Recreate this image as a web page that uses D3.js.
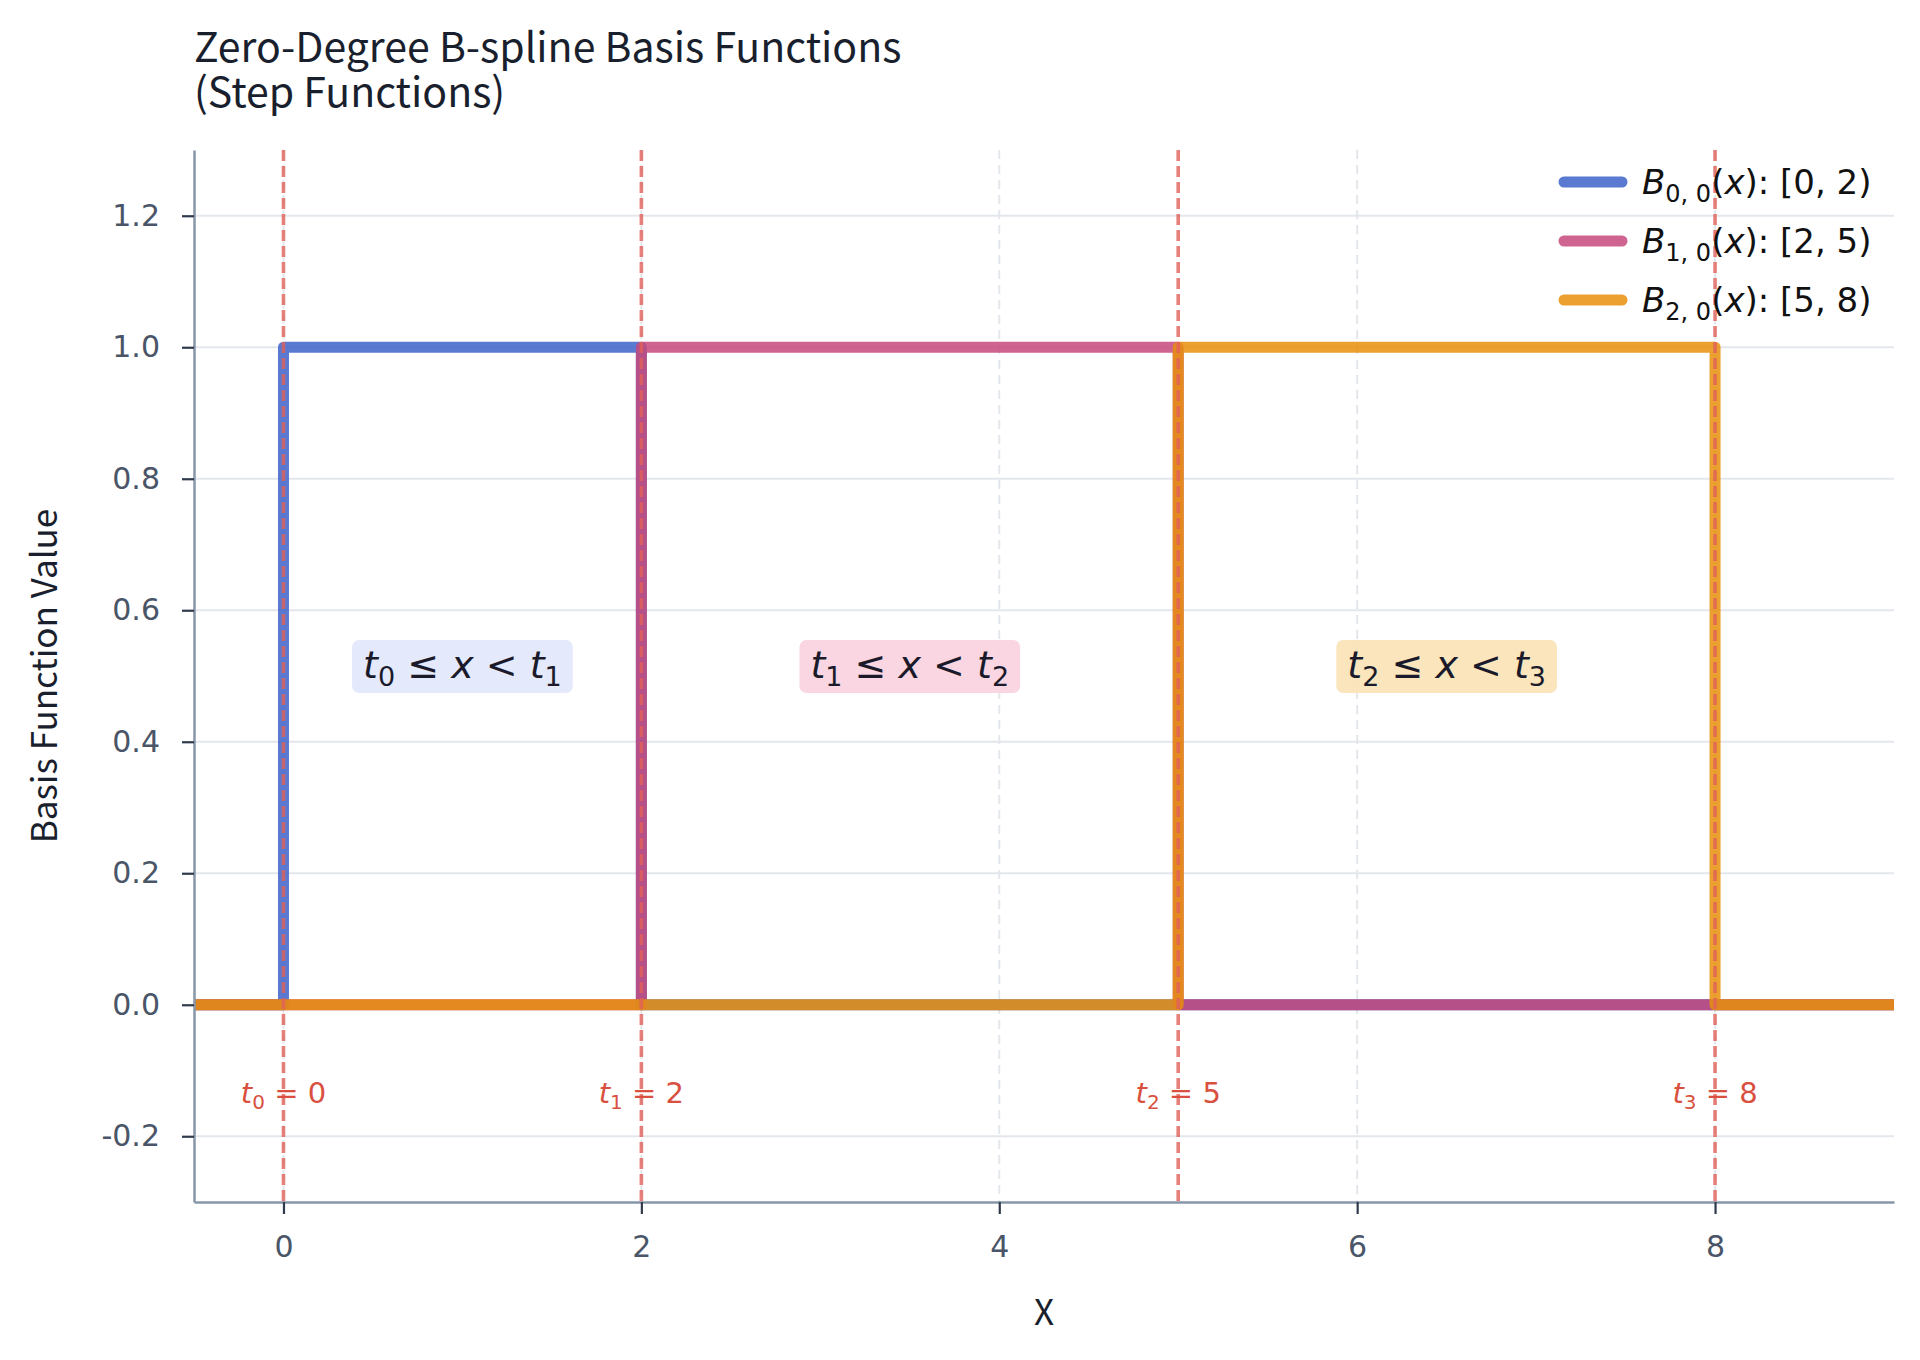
<!DOCTYPE html>
<html>
<head>
<meta charset="utf-8">
<script src="https://cdn.jsdelivr.net/npm/d3@7"></script>
<style>
  body { margin: 0; background: #fff; }
  svg { display: block; }
  .tick text { font-family: "DejaVu Sans", sans-serif; }
</style>
</head>
<body>
<script>
//knot vector and evaluation points of the step functions
var knots = [0, 2, 5, 8];
var xSamples = [-0.5, 0, 2, 5, 8, 9];
var basisB0 = [0, 1, 0, 0, 0, 0];
var basisB1 = [0, 0, 1, 0, 0, 0];
var basisB2 = [0, 0, 0, 1, 0, 0];
var basisIndex = [0, 1, 2];
var intervalLabels = ["[0, 2)", "[2, 5)", "[5, 8)"];
var lineColors = ["#3d63ca", "#c7497c", "#e88f0c"];
var boxColors = ["#e2e7fb", "#f8d2df", "#fae3b7"];

var xTicks = [0, 2, 4, 6, 8];
var yTicks = [-0.2, 0.0, 0.2, 0.4, 0.6, 0.8, 1.0, 1.2];
var yTickLabels = ["-0.2", "0.0", "0.2", "0.4", "0.6", "0.8", "1.0", "1.2"];
var titleLines = ["Zero-Degree B-spline Basis Functions", "(Step Functions)"];

(function () {
    var width = 1920, height = 1360;
    var plotLeft = 194, plotRight = 1894, plotTop = 150, plotBottom = 1202;

    var svg = d3.select("body").append("svg")
        .attr("width", width)
        .attr("height", height);

    svg.append("rect").attr("width", width).attr("height", height).attr("fill", "#fff");

    var x = d3.scaleLinear().domain([-0.5, 9]).range([plotLeft, plotRight]);
    var y = d3.scaleLinear().domain([-0.3, 1.3]).range([plotBottom, plotTop]);

    //clip so the thick lines stop at the frame
    svg.append("clipPath").attr("id", "plotClip")
      .append("rect")
        .attr("x", plotLeft).attr("y", plotTop)
        .attr("width", plotRight - plotLeft).attr("height", plotBottom - plotTop);

    //grid
    svg.append("g").selectAll("line")
        .data(yTicks)
        .enter().append("line")
        .attr("x1", plotLeft).attr("x2", plotRight)
        .attr("y1", function (d) { return y(d); })
        .attr("y2", function (d) { return y(d); })
        .attr("stroke", "#e3e7ec")
        .attr("stroke-width", 2);

    svg.append("g").selectAll("line")
        .data(xTicks)
        .enter().append("line")
        .attr("x1", function (d) { return x(d); })
        .attr("x2", function (d) { return x(d); })
        .attr("y1", plotTop).attr("y2", plotBottom)
        .attr("stroke", "#e3e7ec")
        .attr("stroke-width", 2)
        .attr("stroke-dasharray", "9,6");

    //step functions
    var series = [basisB0, basisB1, basisB2];
    var line = d3.line()
        .x(function (d) { return x(d[0]); })
        .y(function (d) { return y(d[1]); })
        .curve(d3.curveStepAfter);

    svg.append("g").attr("clip-path", "url(#plotClip)")
      .selectAll("path")
        .data(series)
        .enter().append("path")
        .attr("d", function (vals) {
            return line(xSamples.map(function (v, i) { return [v, vals[i]]; }));
        })
        .attr("fill", "none")
        .attr("stroke", function (d, i) { return lineColors[i]; })
        .attr("stroke-opacity", 0.85)
        .attr("stroke-width", 11)
        .attr("stroke-linejoin", "round");

    //knot lines
    svg.append("g").selectAll("line")
        .data(knots)
        .enter().append("line")
        .attr("x1", function (d) { return x(d); })
        .attr("x2", function (d) { return x(d); })
        .attr("y1", plotTop).attr("y2", plotBottom)
        .attr("stroke", "#e0605a")
        .attr("stroke-opacity", 0.8)
        .attr("stroke-width", 3.6)
        .attr("stroke-dasharray", "11,5");

    //knot labels t_i = value
    var knotText = svg.append("g").selectAll("text")
        .data(knots)
        .enter().append("text")
        .attr("x", function (d) { return x(d); })
        .attr("y", y(-0.15))
        .attr("text-anchor", "middle")
        .attr("font-family", "DejaVu Sans, sans-serif")
        .attr("font-size", 29)
        .attr("fill", "#d9503f");
    knotText.append("tspan").attr("font-style", "italic").text("t");
    knotText.append("tspan").attr("font-size", 20).attr("dy", 6).text(function (d, i) { return i; });
    knotText.append("tspan").attr("dy", -6).text(function (d) { return " = " + d; });

    //region annotations
    var regions = svg.append("g").selectAll("g")
        .data(basisIndex)
        .enter().append("g");

    var regionText = regions.append("text")
        .attr("x", function (i) { return x((knots[i] + knots[i + 1]) / 2); })
        .attr("y", y(0.5) + 2)
        .attr("text-anchor", "middle")
        .attr("font-family", "DejaVu Sans, sans-serif")
        .attr("font-size", 38)
        .attr("fill", "#1a1a2a");
    regionText.append("tspan").attr("font-style", "italic").text("t");
    regionText.append("tspan").attr("font-size", 27).attr("dy", 8).text(function (i) { return i; });
    regionText.append("tspan").attr("dy", -8).text(" \u2264 ");
    regionText.append("tspan").attr("font-style", "italic").text("x");
    regionText.append("tspan").text(" < ");
    regionText.append("tspan").attr("font-style", "italic").text("t");
    regionText.append("tspan").attr("font-size", 27).attr("dy", 8).text(function (i) { return i + 1; });

    regions.each(function (i) {
        var g = d3.select(this);
        var bb = g.select("text").node().getBBox();
        g.insert("rect", "text")
            .attr("x", bb.x - 11)
            .attr("y", bb.y - 3)
            .attr("width", bb.width + 22)
            .attr("height", bb.height + 4)
            .attr("rx", 7)
            .attr("fill", boxColors[i])
            .attr("fill-opacity", 0.92);
    });

    //axes
    var xAxis = svg.append("g")
        .attr("transform", "translate(0," + plotBottom + ")")
        .call(d3.axisBottom(x).tickValues(xTicks).tickFormat(d3.format("d"))
            .tickSize(12).tickSizeOuter(0).tickPadding(22));
    var yAxis = svg.append("g")
        .attr("transform", "translate(" + plotLeft + ",0)")
        .call(d3.axisLeft(y).tickValues(yTicks)
            .tickFormat(function (d, i) { return yTickLabels[i]; })
            .tickSize(12).tickSizeOuter(0).tickPadding(22));

    [xAxis, yAxis].forEach(function (ax) {
        ax.select(".domain").attr("stroke", "#8796a8").attr("stroke-width", 2.5);
        ax.selectAll(".tick line").attr("stroke", "#2f3b4c").attr("stroke-width", 2.2);
        ax.selectAll(".tick text").attr("font-size", 30).attr("fill", "#4a5568");
    });

    //legend
    var legend = svg.append("g").selectAll("g")
        .data(basisIndex)
        .enter().append("g")
        .attr("transform", function (i) { return "translate(1558," + (182 + i * 59) + ")"; });
    legend.append("line")
        .attr("x1", 6).attr("x2", 64)
        .attr("stroke", function (i) { return lineColors[i]; })
        .attr("stroke-opacity", 0.85)
        .attr("stroke-width", 11)
        .attr("stroke-linecap", "round");
    var legText = legend.append("text")
        .attr("x", 84)
        .attr("y", 12)
        .attr("font-family", "DejaVu Sans, sans-serif")
        .attr("font-size", 34)
        .attr("fill", "#111");
    legText.append("tspan").attr("font-style", "italic").text("B");
    legText.append("tspan").attr("font-size", 24).attr("dy", 8).text(function (i) { return i + ", 0"; });
    legText.append("tspan").attr("dy", -8).text("(");
    legText.append("tspan").attr("font-style", "italic").text("x");
    legText.append("tspan").text(function (i) { return "): " + intervalLabels[i]; });

    //title, one text per line
    svg.append("g").selectAll("text")
        .data(titleLines)
        .enter().append("text")
        .attr("x", plotLeft)
        .attr("y", function (d, i) { return 62 + i * 45; })
        .attr("font-family", "Noto Sans CJK KR, Noto Sans, sans-serif")
        .attr("font-size", 41)
        .attr("fill", "#1a1f2e")
        .text(function (d) { return d; });

    svg.append("text")
        .attr("x", (plotLeft + plotRight) / 2)
        .attr("y", 1325)
        .attr("text-anchor", "middle")
        .attr("font-family", "Noto Sans CJK KR, Noto Sans, sans-serif")
        .attr("font-size", 35)
        .attr("fill", "#1a1f2e")
        .text("X");

    svg.append("text")
        .attr("transform", "translate(57,676) rotate(-90)")
        .attr("text-anchor", "middle")
        .attr("font-family", "Noto Sans CJK KR, Noto Sans, sans-serif")
        .attr("font-size", 35)
        .attr("fill", "#1a1f2e")
        .text("Basis Function Value");
})();
</script>
</body>
</html>
